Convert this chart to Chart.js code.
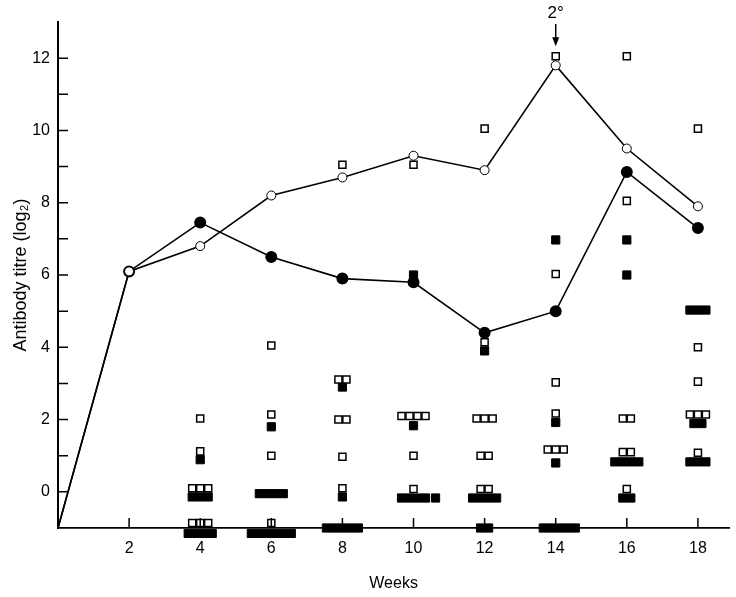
<!DOCTYPE html>
<html>
<head>
<meta charset="utf-8">
<script src="https://cdn.jsdelivr.net/npm/chart.js@4.4.1/dist/chart.umd.min.js"></script>
<style>
    html, body { margin: 0; padding: 0; background: #fff; overflow: hidden; }
    #wrap { width: 736px; height: 597px; position: relative; }
    #wrap canvas { display: block; }
</style>
</head>
<body>
<div id="wrap"><canvas id="titreChart"></canvas></div>
<script>
// mean titres (log2) per week
const weeks = [0, 2, 4, 6, 8, 10, 12, 14, 16, 18];
const openMean = [-1, 6.1, 6.8, 8.2, 8.7, 9.3, 8.9, 11.8, 9.5, 7.9];
const filledMean = [-1, 6.1, 7.45, 6.5, 5.9, 5.8, 4.4, 5.0, 8.85, 7.3];

// individual animals: [week, titre, how many at that titre]
const openSquares = [
    [4, 2.03, 1], [4, 1.12, 1], [4, 0.1, 3], [4, -0.86, 3],
    [6, 4.05, 1], [6, 2.14, 1], [6, 1.0, 1], [6, -0.86, 1],
    [8, 9.05, 1], [8, 3.11, 2], [8, 2.0, 2], [8, 0.97, 1], [8, 0.1, 1],
    [10, 9.05, 1], [10, 2.1, 4], [10, 1.0, 1], [10, 0.08, 1],
    [12, 10.05, 1], [12, 4.14, 1], [12, 2.03, 3], [12, 1.0, 2], [12, 0.08, 2],
    [14, 12.05, 1], [14, 6.03, 1], [14, 3.03, 1], [14, 2.17, 1], [14, 1.17, 3],
    [16, 12.05, 1], [16, 8.05, 1], [16, 2.03, 2], [16, 1.1, 2], [16, 0.08, 1],
    [18, 10.05, 1], [18, 4.0, 1], [18, 3.05, 1], [18, 2.14, 3], [18, 1.08, 1]
];
const filledSquares = [
    [4, 0.89, 1], [4, -0.14, 3], [4, -1.15, 4],
    [6, 1.8, 1], [6, -0.05, 4], [6, -1.15, 6],
    [8, 2.9, 1], [8, -0.14, 1], [8, -1.0, 5],
    [10, 6.0, 1], [10, 1.83, 1], [10, -0.17, 4], [10.62, -0.17, 1],
    [12, 3.9, 1], [12, -0.17, 4], [12, -1.0, 2],
    [14, 6.97, 1], [14, 1.92, 1], [14, 0.8, 1], [14.1, -1.0, 5],
    [16, 6.97, 1], [16, 6.0, 1], [16, 0.83, 4], [16, -0.17, 2],
    [18, 5.03, 3], [18, 1.89, 2], [18, 0.83, 3]
];

const weekTicks = [2, 4, 6, 8, 10, 12, 14, 16, 18];
const titreTicks = [0, 2, 4, 6, 8, 10, 12];

const boosterWeek = 14;
const boosterLabel = "2°";

// squares with the same titre sit side by side
const squareStep = 0.225;
function spread(groups) {
    const pts = [];
    groups.forEach(function (g) {
        for (let i = 0; i < g[2]; i++) {
            pts.push({ x: g[0] + (i - (g[2] - 1) / 2) * squareStep, y: g[1] });
        }
    });
    return pts;
}

function meanPoints(vals) {
    return weeks.map(function (w, i) { return { x: w, y: vals[i] }; });
}

const FONT = "'Liberation Sans', Arial, sans-serif";

// ticks in the original point inwards, plus the 2° arrow
const inwardTicks = {
    id: "inwardTicks",
    afterDraw(chart) {
        const c = chart.ctx;
        const xs = chart.scales.x;
        const ys = chart.scales.y;
        const x0 = xs.getPixelForValue(0);
        const yb = ys.getPixelForValue(-1);
        c.save();
        c.strokeStyle = "#000";
        c.lineWidth = 1.5;
        c.beginPath();
        for (let v = 0; v <= 12; v++) {
            const py = ys.getPixelForValue(v);
            c.moveTo(x0, py);
            c.lineTo(x0 + 10, py);
        }
        weekTicks.forEach(function (w) {
            const px = xs.getPixelForValue(w);
            c.moveTo(px, yb);
            c.lineTo(px, yb - 10);
        });
        c.stroke();

        const ax = xs.getPixelForValue(boosterWeek);
        const top = ys.getPixelForValue(13);
        c.fillStyle = "#000";
        c.font = "17px " + FONT;
        c.textAlign = "center";
        c.textBaseline = "middle";
        c.fillText(boosterLabel, ax, top - 9);
        const tip = ys.getPixelForValue(12.33);
        c.lineWidth = 1.5;
        c.beginPath();
        c.moveTo(ax, top + 2);
        c.lineTo(ax, tip - 6);
        c.stroke();
        c.beginPath();
        c.moveTo(ax - 3.5, tip - 9);
        c.lineTo(ax + 3.5, tip - 9);
        c.lineTo(ax, tip);
        c.closePath();
        c.fill();
        c.restore();
    }
};

new Chart(document.getElementById("titreChart"), {
    type: "scatter",
    data: {
        datasets: [
            {
                label: "open squares",
                data: spread(openSquares),
                pointStyle: "rect",
                pointRadius: 5,
                backgroundColor: "#fff",
                borderColor: "#000",
                borderWidth: 1.5,
                clip: false,
            },
            {
                label: "filled squares",
                data: spread(filledSquares),
                pointStyle: "rect",
                pointRadius: 5.8,
                backgroundColor: "#000",
                borderColor: "#000",
                borderWidth: 1,
                clip: false,
            },
            {
                label: "open mean",
                type: "line",
                data: meanPoints(openMean),
                borderColor: "#000",
                borderWidth: 1.6,
                backgroundColor: "#fff",
                pointBorderColor: "#000",
                pointBorderWidth: 1,
                pointRadius: weeks.map(function (w) { return w === 0 ? 0 : 4.5; }),
                tension: 0,
                clip: false,
            },
            {
                label: "filled mean",
                type: "line",
                data: meanPoints(filledMean),
                borderColor: "#000",
                borderWidth: 1.6,
                backgroundColor: "#000",
                pointRadius: weeks.map(function (w) { return w === 0 ? 0 : 5.2; }),
                tension: 0,
                clip: false,
            },
        ],
    },
    options: {
        responsive: true,
        maintainAspectRatio: false,
        animation: false,
        events: [],
        layout: { padding: { top: 22, right: 1, left: 0, bottom: 0 } },
        plugins: {
            legend: { display: false },
            tooltip: { enabled: false },
        },
        scales: {
            x: {
                type: "linear",
                min: 0,
                max: 18.88,
                afterBuildTicks: function (s) {
                    s.ticks = weekTicks.map(function (v) { return { value: v }; });
                },
                afterFit: function (s) { s.height = 69; },
                grid: { display: false, drawTicks: false },
                border: { color: "#000", width: 1.8 },
                ticks: {
                    padding: 11,
                    color: "#000",
                    font: { family: FONT, size: 16 },
                },
                title: {
                    display: true,
                    text: "Weeks",
                    color: "#000",
                    font: { family: FONT, size: 16 },
                    padding: { top: 0 },
                },
            },
            y: {
                min: -1,
                max: 13,
                afterBuildTicks: function (s) {
                    s.ticks = titreTicks.map(function (v) { return { value: v }; });
                },
                afterFit: function (s) { s.width = 58; },
                grid: { display: false, drawTicks: false },
                border: { color: "#000", width: 2 },
                ticks: {
                    padding: 8,
                    color: "#000",
                    font: { family: FONT, size: 16 },
                },
                title: {
                    display: true,
                    text: "Antibody titre (log₂)",
                    color: "#000",
                    font: { family: FONT, size: 18 },
                    padding: { bottom: 0, top: 10 },
                },
            },
        },
    },
    plugins: [inwardTicks],
});
</script>
</body>
</html>
